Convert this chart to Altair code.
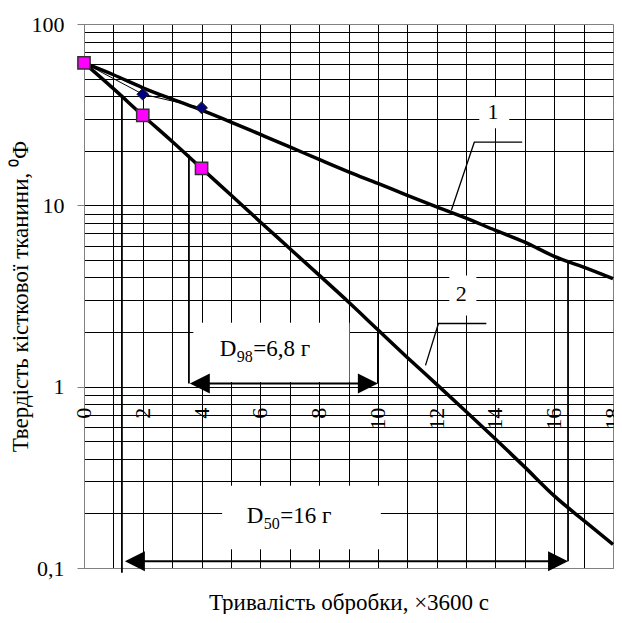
import altair as alt
import pandas as pd

# ---------------- data ----------------
X_HOURS = list(range(19))
CURVE1 = [61, 52.5, 44.5, 38.5, 33.5, 28.8, 24.6, 21.0, 17.9, 15.3, 13.2,
          11.35, 9.8, 8.5, 7.28, 6.27, 5.23, 4.56, 3.94]
CURVE2 = [61, 44, 31.3, 22.5, 16.0, 11.4, 8.1, 5.78, 4.12, 2.93, 2.06,
          1.45, 1.03, 0.73, 0.515, 0.36, 0.25, 0.183, 0.135]
CURVE_NAMES = ["1", "2"]

DIAM_X = [0, 2, 4]
DIAM_Y = [61, 41, 34.5]
SQ_X = [0, 2, 4]
SQ_Y = [61, 31.3, 16]

X_GRID = list(range(19))
X_TICKS = [0, 2, 4, 6, 8, 10, 12, 14, 16, 18]
X_TICK_LABELS = ["0", "2", "4", "6", "8", "10", "12", "14", "16", "18"]
Y_GRID = [0.1, 0.2, 0.3, 0.4, 0.5, 0.6, 0.7, 0.8, 0.9,
          1, 2, 3, 4, 5, 6, 7, 8, 9,
          10, 20, 30, 40, 50, 60, 70, 80, 90, 100]
Y_DECADES = [0.1, 1, 10, 100]
Y_DECADE_LABELS = ["0,1", "1", "10", "100"]

X_TITLE = "Тривалість обробки, ×3600 с"
Y_TITLE = "Твердість кісткової тканини, ⁰Ф"

# annotation geometry (data coordinates)
BOX_X1 = [3.72, 4.7, 13.45, 12.43]
BOX_X2 = [9.03, 10.1, 14.47, 13.35]
BOX_Y1 = [1.06, 0.127, 26.6, 2.47]
BOX_Y2 = [2.25, 0.284, 39.5, 4.1]

VLINE_X = [3.57, 10.0, 1.29, 16.47]
VLINE_Y1 = [19.0, 2.06, 39.6, 4.95]
VLINE_Y2 = [1.04, 1.04, 0.094, 0.109]

SHAFT_X1 = [3.8, 1.6]
SHAFT_X2 = [9.8, 16.3]
SHAFT_Y = [1.04, 0.109]

HEAD_LEFT_X = [3.6, 1.39]
HEAD_LEFT_Y = [1.04, 0.109]
HEAD_RIGHT_X = [10.0, 16.47]
HEAD_RIGHT_Y = [1.04, 0.109]

LEADER_ID = ["1", "1", "1", "2", "2", "2"]
LEADER_ORD = [0, 1, 2, 0, 1, 2]
LEADER_X = [12.5, 13.28, 14.91, 11.62, 12.06, 13.69]
LEADER_Y = [9.4, 22.3, 22.3, 1.31, 2.23, 2.23]

NUM_TEXT = ["1", "2"]
NUM_X = [13.92, 12.84]
NUM_Y = [32.8, 3.23]

D_MAIN = ["D", "D"]
D_SUB = ["98", "50"]
D_REST = ["=6,8 г", "=16 г"]
D_X = [4.62, 5.54]
D_Y = [1.48, 0.176]

TICK_LABEL_Y = 0.766

# ---------------- tables ----------------
curves = pd.DataFrame({
    "x": X_HOURS * 2,
    "y": CURVE1 + CURVE2,
    "s": [CURVE_NAMES[0]] * len(X_HOURS) + [CURVE_NAMES[1]] * len(X_HOURS),
})
diam = pd.DataFrame({"x": DIAM_X, "y": DIAM_Y})
sq = pd.DataFrame({"x": SQ_X, "y": SQ_Y})
boxes = pd.DataFrame({"x": BOX_X1, "x2": BOX_X2, "y": BOX_Y1, "y2": BOX_Y2})
vlines = pd.DataFrame({"x": VLINE_X, "y": VLINE_Y1, "y2": VLINE_Y2})
shafts = pd.DataFrame({"x": SHAFT_X1, "x2": SHAFT_X2, "y": SHAFT_Y})
hl = pd.DataFrame({"x": HEAD_LEFT_X, "y": HEAD_LEFT_Y})
hr = pd.DataFrame({"x": HEAD_RIGHT_X, "y": HEAD_RIGHT_Y})
leaders = pd.DataFrame({"id": LEADER_ID, "o": LEADER_ORD, "x": LEADER_X, "y": LEADER_Y})
nums = pd.DataFrame({"t": NUM_TEXT, "x": NUM_X, "y": NUM_Y})
dlab = pd.DataFrame({"main": D_MAIN, "sub": D_SUB, "rest": D_REST, "x": D_X, "y": D_Y})
xt = pd.DataFrame({"t": X_TICK_LABELS, "x": X_TICKS, "y": [TICK_LABEL_Y] * len(X_TICKS)})

FONT = "Liberation Serif"
GRAY = "#808080"

xs = alt.Scale(domain=[0, 18], nice=False, zero=False)
ys = alt.Scale(type="log", domain=[0.1, 100], nice=False)

dec_test = " || ".join(f"datum.value == {v}" for v in Y_DECADES)
label_expr = "".join(
    f"datum.value == {v} ? '{l}' : " for v, l in zip(Y_DECADES, Y_DECADE_LABELS)
) + "''"

x_axis = alt.Axis(
    values=X_GRID, grid=True, labels=False, ticks=False,
    gridColor={"condition": {"test": "datum.value == 18", "value": GRAY}, "value": "#000000"},
    gridWidth=1, domainColor=GRAY, title=X_TITLE, titleFont=FONT,
    titleFontSize=23, titleFontWeight="normal", titleColor="#000000",
    titlePadding=23,
)
y_axis = alt.Axis(
    values=Y_GRID, grid=True, labelExpr=label_expr, labelOverlap=False,
    labelFlush=False, labelFont=FONT, labelFontSize=22, labelColor="#000000",
    labelPadding=13, tickSize=7,
    tickColor={"condition": {"test": dec_test, "value": GRAY}, "value": "transparent"},
    gridColor={"condition": {"test": "datum.value == 100 || datum.value == 0.1", "value": GRAY},
               "value": "#000000"},
    gridWidth=1, domainColor=GRAY, title=Y_TITLE, titleFont=FONT,
    titleFontSize=23, titleFontWeight="normal", titleColor="#000000",
    titleX=-52,
)

def X(field="x"):
    return alt.X(f"{field}:Q", scale=xs, axis=x_axis)

def Y(field="y"):
    return alt.Y(f"{field}:Q", scale=ys, axis=y_axis)

box_layer = alt.Chart(boxes).mark_rect(color="white").encode(
    x=X(), x2="x2:Q", y=Y(), y2="y2:Q",
)

curve_layer = alt.Chart(curves).mark_line(color="black", strokeWidth=3.5,
                                          interpolate="monotone").encode(
    x=X(), y=Y(), detail="s:N")

thin_layer = alt.Chart(diam).mark_line(color="black", strokeWidth=1).encode(x=X(), y=Y())

vline_layer = alt.Chart(vlines).mark_rule(color="black", strokeWidth=1.8).encode(
    x=X(), y=Y(), y2="y2:Q")

shaft_layer = alt.Chart(shafts).mark_rule(color="black", strokeWidth=2).encode(
    x=X(), x2="x2:Q", y=Y())

left_head = alt.Chart(hl).mark_point(shape="M0,0L2,-1L2,1Z", filled=True, size=400,
                                     color="black", opacity=1).encode(x=X(), y=Y())
right_head = alt.Chart(hr).mark_point(shape="M0,0L-2,-1L-2,1Z", filled=True, size=400,
                                      color="black", opacity=1).encode(x=X(), y=Y())

leader_layer = alt.Chart(leaders).mark_line(color="black", strokeWidth=1.3).encode(
    x=X(), y=Y(), detail="id:N", order="o:Q")

diam_layer = alt.Chart(diam).mark_point(shape="diamond", filled=True, size=140,
                                        fill="#000080", stroke="#202020", strokeWidth=1,
                                        opacity=1).encode(x=X(), y=Y())
sq_layer = alt.Chart(sq).mark_point(shape="square", filled=True, size=150,
                                    fill="#FF00FF", stroke="#303030", strokeWidth=1.5,
                                    opacity=1).encode(x=X(), y=Y())

num_layer = alt.Chart(nums).mark_text(font=FONT, fontSize=22, color="black",
                                      align="center", baseline="middle").encode(
    x=X(), y=Y(), text="t:N")
d_main = alt.Chart(dlab).mark_text(font=FONT, fontSize=23, color="black",
                                   align="left", baseline="alphabetic").encode(
    x=X(), y=Y(), text="main:N")
d_sub = alt.Chart(dlab).mark_text(font=FONT, fontSize=16, color="black",
                                  align="left", baseline="alphabetic", dx=17, dy=6).encode(
    x=X(), y=Y(), text="sub:N")
d_rest = alt.Chart(dlab).mark_text(font=FONT, fontSize=23, color="black",
                                   align="left", baseline="alphabetic", dx=33.5).encode(
    x=X(), y=Y(), text="rest:N")
xt_layer = alt.Chart(xt).mark_text(font=FONT, fontSize=22, color="black", angle=270,
                                   align="right", baseline="middle").encode(
    x=X(), y=Y(), text="t:N")

chart = alt.layer(
    box_layer, curve_layer, thin_layer, vline_layer, shaft_layer, left_head, right_head,
    leader_layer, diam_layer, sq_layer, num_layer, d_main, d_sub, d_rest, xt_layer,
).properties(
    width=529, height=544,
    autosize=alt.AutoSizeParams(type="none"),
    padding={"left": 76, "top": 16, "right": 1, "bottom": 46},
).configure_view(stroke=GRAY, strokeWidth=1).configure(font=FONT)

chart.save("out.html", embed_options={"renderer": "svg", "actions": False})
